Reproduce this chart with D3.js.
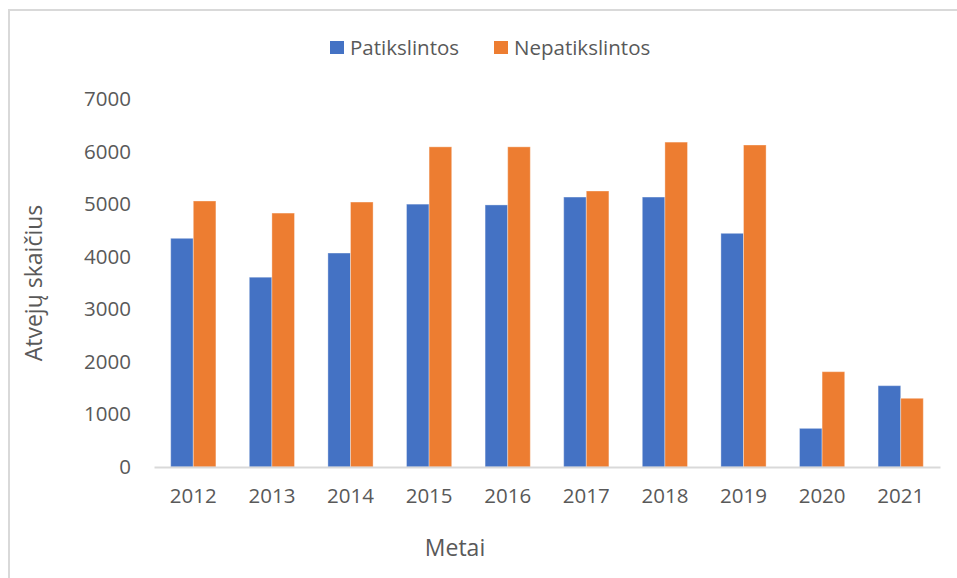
<!DOCTYPE html>
<html>
<head>
<meta charset="utf-8">
<script src="https://cdn.jsdelivr.net/npm/d3@7"></script>
<style>
    body { margin: 0; background: #fff; }
    svg { display: block; font-family: "Open Sans", sans-serif; }
</style>
</head>
<body>
<svg id="chart"></svg>
<script>
const years = ["2012", "2013", "2014", "2015", "2016", "2017", "2018", "2019", "2020", "2021"];
const patikslintos = [4350, 3610, 4070, 5000, 4985, 5135, 5135, 4445, 735, 1547];
const nepatikslintos = [5060, 4830, 5040, 6090, 6090, 5250, 6180, 6125, 1813, 1307];
const seriesNames = ["Patikslintos", "Nepatikslintos"];
const seriesColors = ["#4472c4", "#ed7d31"];
const yTicks = [0, 1000, 2000, 3000, 4000, 5000, 6000, 7000];

const width = 957, height = 578;
const margin = { top: 99, right: 17, bottom: 111, left: 154 };
const innerW = width - margin.left - margin.right;
const innerH = height - margin.top - margin.bottom;

const svg = d3.select("#chart").attr("width", width).attr("height", height);

// chart frame
svg.append("rect")
    .attr("x", 9).attr("y", 10)
    .attr("width", width + 10).attr("height", height + 10)
    .attr("fill", "none")
    .attr("stroke", "#d9d9d9")
    .attr("stroke-width", 2);

const g = svg.append("g").attr("transform", `translate(${margin.left},${margin.top})`);

const x = d3.scaleBand().domain(years).range([0, innerW]).paddingInner(0.425).paddingOuter(0.2125);
const xSub = d3.scaleBand().domain(seriesNames).range([0, x.bandwidth()]);
const y = d3.scaleLinear().domain([0, 7000]).range([innerH, 0]);

const rows = years.map((yr, i) => ({ year: yr, values: [patikslintos[i], nepatikslintos[i]] }));

// bars
g.selectAll("g.year").data(rows).join("g")
    .attr("class", "year")
    .attr("transform", d => `translate(${x(d.year)},0)`)
    .selectAll("rect")
    .data(d => d.values.map((v, k) => ({ name: seriesNames[k], value: v, color: seriesColors[k] })))
    .join("rect")
    .attr("x", d => xSub(d.name))
    .attr("y", d => y(d.value))
    .attr("width", xSub.bandwidth())
    .attr("height", d => innerH - y(d.value))
    .attr("fill", d => d.color)
    .attr("stroke", "#fff")
    .attr("stroke-opacity", 0.35)
    .attr("stroke-width", 1);

// y axis (labels only)
const yAxis = g.append("g")
    .call(d3.axisLeft(y).tickValues(yTicks).tickSize(0).tickPadding(23).tickFormat(d3.format("d")));
yAxis.select(".domain").remove();
yAxis.selectAll("text")
    .attr("fill", "#595959")
    .style("font-size", "20.5px")
    .style("font-family", "Open Sans, sans-serif");

// x axis
const xAxis = g.append("g")
    .attr("transform", `translate(0,${innerH})`)
    .call(d3.axisBottom(x).tickSize(0).tickPadding(21));
xAxis.select(".domain").attr("stroke", "#d9d9d9").attr("stroke-width", 2);
xAxis.selectAll("text")
    .attr("fill", "#595959")
    .style("font-size", "20.5px")
    .style("font-family", "Open Sans, sans-serif");

// axis titles
svg.append("text")
    .attr("text-anchor", "middle")
    .attr("transform", `translate(42,283) rotate(-90)`)
    .attr("fill", "#595959")
    .style("font-size", "23px")
    .text("Atvejų skaičius");

svg.append("text")
    .attr("x", 455).attr("y", 556)
    .attr("text-anchor", "middle")
    .attr("fill", "#595959")
    .style("font-size", "23px")
    .text("Metai");

// legend
const legendItems = [
    { name: seriesNames[0], color: seriesColors[0], x: 330 },
    { name: seriesNames[1], color: seriesColors[1], x: 494 }
];
const legend = svg.append("g").selectAll("g").data(legendItems).join("g")
    .attr("transform", d => `translate(${d.x},41)`);
legend.append("rect")
    .attr("width", 14).attr("height", 13)
    .attr("fill", d => d.color);
legend.append("text")
    .attr("x", 20).attr("y", 13.5)
    .attr("fill", "#595959")
    .style("font-size", "20.5px")
    .text(d => d.name);
</script>
</body>
</html>
